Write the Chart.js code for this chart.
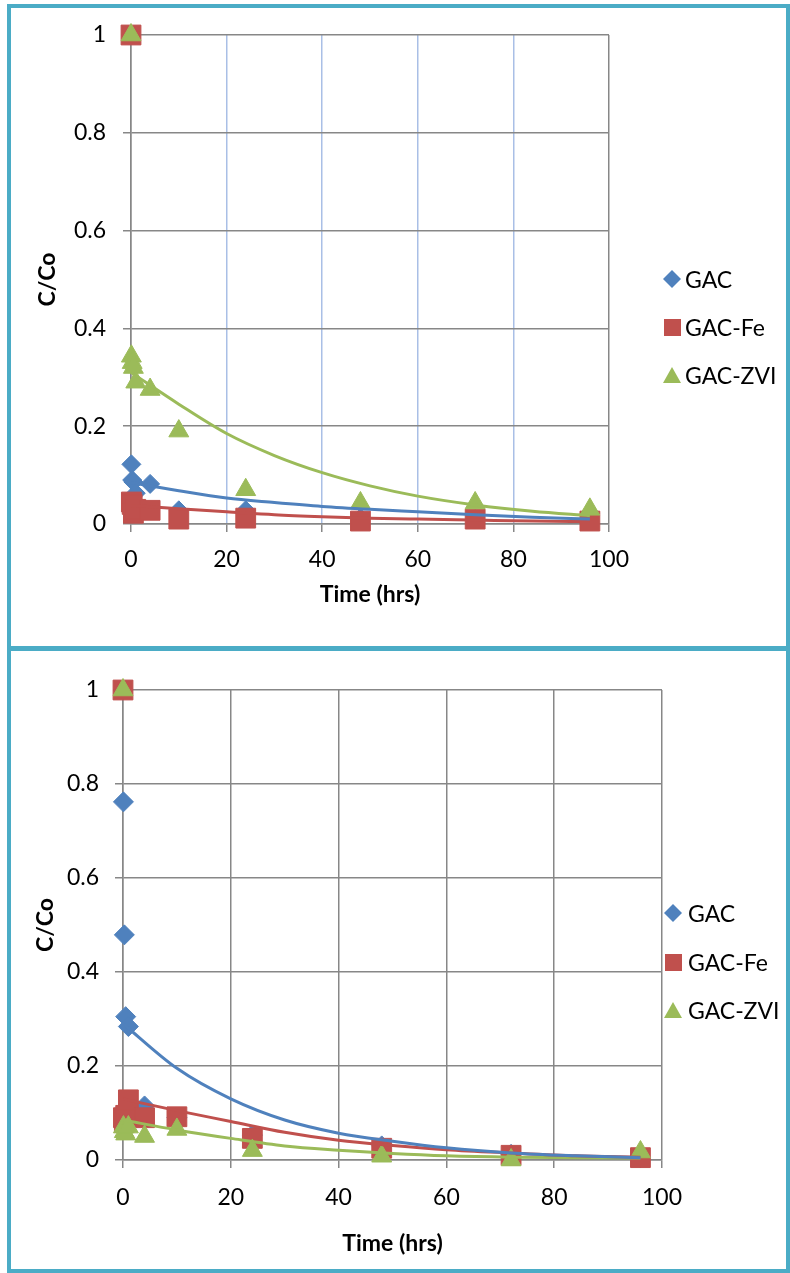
<!DOCTYPE html>
<html>
<head>
<meta charset="utf-8">
<script src="https://cdn.jsdelivr.net/npm/chart.js@4.4.0/dist/chart.umd.min.js"></script>
<style>
  body { margin: 0; background: #fff; width: 790px; height: 1273px; position: relative; overflow: hidden; font-family: Lato, "Open Sans", sans-serif; }
  .bar { position: absolute; background: #4bacc6; z-index: 2; }
  canvas { position: absolute; }
  .legend { position: absolute; font-size: 23px; color: #000; }
  .legend .row { position: absolute; left: 0; height: 28px; line-height: 28px; white-space: nowrap; }
  .legend .mk { position: absolute; }
  .legend span.txt { position: absolute; left: 0; top: 0; }
</style>
</head>
<body>
<div class="bar" style="left:7px;top:4px;width:783px;height:4px"></div>
<div class="bar" style="left:7px;top:4px;width:4px;height:1269px"></div>
<div class="bar" style="left:7px;top:646px;width:783px;height:5px"></div>
<div class="bar" style="left:786px;top:4px;width:4px;height:1269px"></div>
<div class="bar" style="left:7px;top:1269px;width:783px;height:4px"></div>

<canvas id="c1" width="774" height="645" style="left:12px;top:0px"></canvas>
<canvas id="c2" width="774" height="616" style="left:12px;top:652px"></canvas>

<div id="leg1" class="legend" style="left:660px;top:265px"></div>
<div id="leg2" class="legend" style="left:661px;top:899px"></div>

<script>
// sampling times (hrs)
const times = [0, 0.08, 0.25, 0.5, 1, 4, 10, 24, 48, 72, 96];

// top chart, measured C/Co
const gac1 = [1, 0.122, 0.09, 0.086, 0.063, 0.082, 0.028, 0.028, 0.012, 0.01, 0.022];
const fe1  = [1, 0.045, 0.04, 0.022, 0.03, 0.028, 0.01, 0.012, 0.006, 0.01, 0.006];
const zvi1 = [1, 0.343, 0.33, 0.32, 0.29, 0.275, 0.19, 0.07, 0.043, 0.043, 0.03];

// bottom chart, measured C/Co
const gac2 = [1, 0.762, 0.479, 0.305, 0.284, 0.115, 0.09, 0.053, 0.03, 0.012, 0.005];
const fe2  = [1, 0.09, 0.08, 0.095, 0.128, 0.09, 0.092, 0.046, 0.025, 0.01, 0.005];
const zvi2 = [1, 0.07, 0.06, 0.055, 0.07, 0.05, 0.065, 0.02, 0.008, 0.0, 0.017];

// trend lines
const trendT = [0, 10, 20, 30, 40, 50, 60, 72, 84, 96];
const gacTrend1 = [0.085, 0.068, 0.053, 0.044, 0.036, 0.030, 0.025, 0.019, 0.014, 0.01];
const feTrend1  = [0.038, 0.031, 0.025, 0.019, 0.015, 0.012, 0.010, 0.008, 0.006, 0.005];
const zviTrend1 = [0.31, 0.245, 0.185, 0.14, 0.105, 0.078, 0.057, 0.039, 0.026, 0.017];
const gacTrend2 = [0.29, 0.195, 0.13, 0.085, 0.057, 0.04, 0.026, 0.015, 0.009, 0.005];
const feTrend2  = [0.13, 0.105, 0.082, 0.059, 0.042, 0.031, 0.022, 0.015, 0.009, 0.006];
const zviTrend2 = [0.085, 0.064, 0.046, 0.03, 0.021, 0.014, 0.009, 0.006, 0.005, 0.004];

const seriesNames = ['GAC', 'GAC-Fe', 'GAC-ZVI'];
const xTicks = [0, 20, 40, 60, 80, 100];
const yTicks = [0, 0.2, 0.4, 0.6, 0.8, 1];

const BLUE = '#4f81bd', RED = '#c0504d', GREEN = '#9bbb59';
const GRAY = '#878787', LIGHTBLUE = '#a9bfe6';
const FONT = 'Lato, "Open Sans", sans-serif';

function pts(xs, ys) {
  return xs.map((x, i) => ({x: x, y: ys[i]}));
}

function markers(label, data, color, style, r, order) {
  return {
    type: 'scatter', label: label, data: data, order: order, clip: false,
    pointStyle: style, pointRadius: r, pointHoverRadius: r,
    backgroundColor: color, borderColor: color, borderWidth: 1, showLine: false
  };
}

function trend(data, color) {
  return {
    type: 'line', label: 'trend', data: data, order: 0,
    borderColor: color, borderWidth: 3, pointRadius: 0,
    cubicInterpolationMode: 'monotone', fill: false
  };
}

function makeChart(id, sets, o) {
  return new Chart(document.getElementById(id), {
    type: 'scatter',
    data: {datasets: sets},
    options: {
      responsive: false,
      animation: false,
      devicePixelRatio: 1,
      layout: {padding: {left: 0, top: o.top, right: o.right, bottom: 0}},
      plugins: {legend: {display: false}, tooltip: {enabled: false}},
      scales: {
        x: {
          type: 'linear', min: 0, max: 100,
          afterBuildTicks: s => { s.ticks = xTicks.map(v => ({value: v})); },
          afterFit: s => { s.height = o.xh; },
          ticks: {color: '#000', font: {family: FONT, size: 23}, padding: o.xpad, maxRotation: 0},
          grid: {color: o.vgrid, tickColor: GRAY, lineWidth: 1.5, tickLength: 8},
          border: {color: GRAY, width: 1.5},
          title: {display: true, text: 'Time (hrs)', color: '#000',
                  font: {family: FONT, size: 23, weight: 'bold'}, padding: {top: 0, bottom: o.xtp}}
        },
        y: {
          type: 'linear', min: 0, max: 1,
          afterBuildTicks: s => { s.ticks = yTicks.map(v => ({value: v})); },
          afterFit: s => { s.width = o.yw; },
          ticks: {color: '#000', font: {family: FONT, size: 23}, padding: o.ypad,
                  callback: v => String(v)},
          grid: {color: GRAY, lineWidth: 1.5, tickLength: 8},
          border: {color: GRAY, width: 1.5},
          title: {display: true, text: 'C/Co', color: '#000',
                  font: {family: FONT, size: 23, weight: 'bold'}, padding: {top: o.ytp, bottom: 0}}
        }
      }
    }
  });
}

makeChart('c1', [
  trend(pts(trendT, gacTrend1), BLUE),
  trend(pts(trendT, feTrend1), RED),
  trend(pts(trendT, zviTrend1), GREEN),
  markers(seriesNames[2], pts(times, zvi1), GREEN, 'triangle', 11.5, 1),
  markers(seriesNames[1], pts(times, fe1), RED, 'rect', 14, 2),
  markers(seriesNames[0], pts(times, gac1), BLUE, 'rectRot', 9.5, 3)
], {
  top: 35, right: 177, xh: 121, yw: 119, xpad: 14, ypad: 17, xtp: 37, ytp: 22,
  vgrid: c => (c.tick && (c.tick.value === 0 || c.tick.value === 100)) ? GRAY : LIGHTBLUE
});

makeChart('c2', [
  trend(pts(trendT, gacTrend2), BLUE),
  trend(pts(trendT, feTrend2), RED),
  trend(pts(trendT, zviTrend2), GREEN),
  markers(seriesNames[2], pts(times, zvi2), GREEN, 'triangle', 11.5, 1),
  markers(seriesNames[1], pts(times, fe2), RED, 'rect', 14, 2),
  markers(seriesNames[0], pts(times, gac2), BLUE, 'rectRot', 10, 3)
], {
  top: 38, right: 124, xh: 108, yw: 111, xpad: 16, ypad: 16, xtp: 11, ytp: 20,
  vgrid: GRAY
});

// legends (HTML text, canvas markers)
function legend(id, gap, textLeft) {
  const box = document.getElementById(id);
  const colors = [BLUE, RED, GREEN];
  seriesNames.forEach((name, i) => {
    const row = document.createElement('div');
    row.className = 'row';
    row.style.top = (i * gap) + 'px';
    const cv = document.createElement('canvas');
    cv.width = 22; cv.height = 22;
    cv.className = 'mk';
    cv.style.left = '1px'; cv.style.top = '3px';
    const ctx = cv.getContext('2d');
    ctx.fillStyle = colors[i];
    ctx.beginPath();
    if (i === 0) { ctx.moveTo(11, 2); ctx.lineTo(20, 11); ctx.lineTo(11, 20); ctx.lineTo(2, 11); }
    else if (i === 1) { ctx.rect(3, 3, 17, 17); }
    else { ctx.moveTo(11, 3); ctx.lineTo(20, 19); ctx.lineTo(2, 19); }
    ctx.closePath();
    ctx.fill();
    row.appendChild(cv);
    const t = document.createElement('span');
    t.className = 'txt';
    t.style.left = textLeft + 'px';
    t.textContent = name;
    row.appendChild(t);
    box.appendChild(row);
  });
}
legend('leg1', 48, 25);
legend('leg2', 48.5, 27);
</script>
</body>
</html>
